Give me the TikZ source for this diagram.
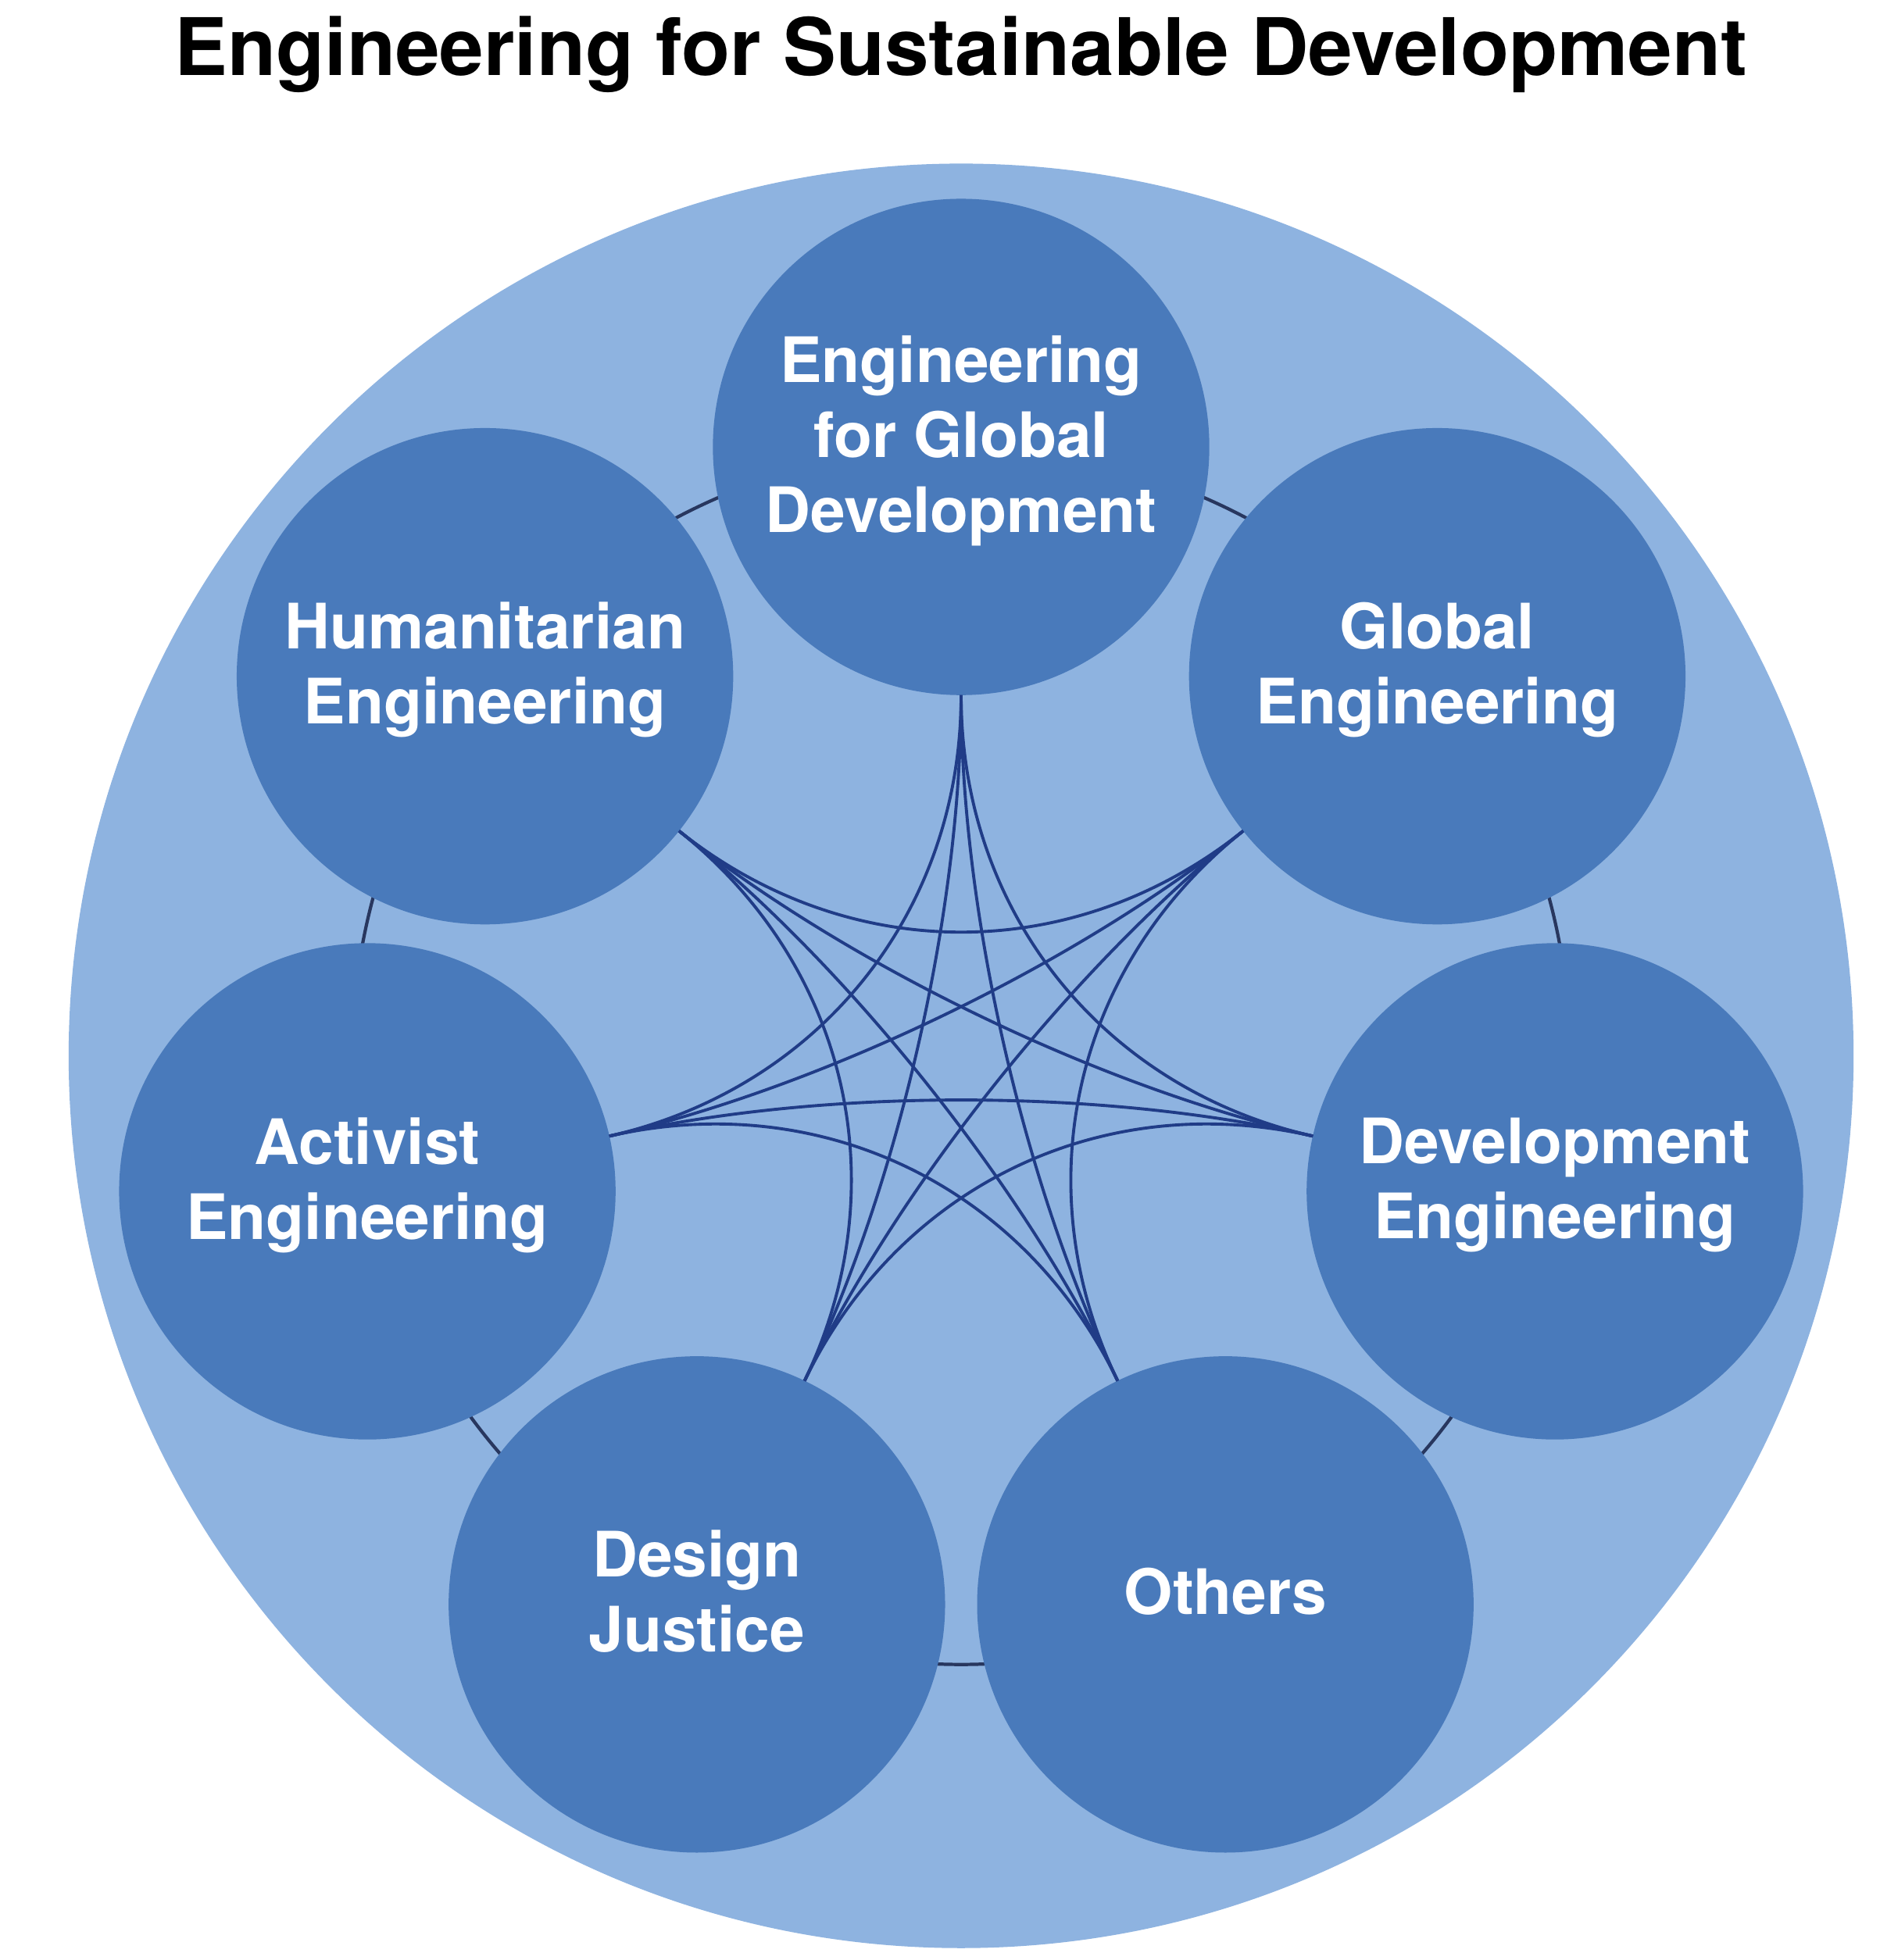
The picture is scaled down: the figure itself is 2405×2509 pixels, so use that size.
\documentclass[tikz,border=0pt]{standalone}
\usepackage{fontspec}
\setmainfont{TeX Gyre Heros}
\usetikzlibrary{calc,backgrounds}
\definecolor{bigfill}{RGB}{142,179,224}
\definecolor{smallfill}{RGB}{73,122,187}
\definecolor{starline}{RGB}{32,60,135}
\definecolor{linkline}{RGB}{40,55,95}
\begin{document}
\begin{tikzpicture}[x=0.01cm,y=0.01cm,
  topic/.style={circle, fill=smallfill, minimum size=6.35cm, inner sep=0pt, outer sep=0pt,
    text=white, align=center, text depth=9.6pt, font=\fontsize{22.8}{27.3}\selectfont\bfseries},
  starcurve/.style={draw=starline, line width=1.1pt},
  ring/.style={draw=linkline, line width=1.2pt},
  titletext/.style={font=\fontsize{28.9}{34}\selectfont\bfseries, anchor=base, inner sep=0pt}]
\useasboundingbox (0,0) rectangle (2405,2509);
\coordinate (C) at (1230,1157.4);
\node[titletext] (title) at (1230,2412) {Engineering for Sustainable Development};
\node[topic] (n0) at ($(C)+(90:7.79cm)$) {Engineering\\for Global\\Development};
\node[topic] (n1) at ($(C)+(141.4286:7.79cm)$) {Humanitarian\\Engineering};
\node[topic] (n2) at ($(C)+(192.8571:7.79cm)$) {Activist\\Engineering};
\node[topic] (n3) at ($(C)+(244.2857:7.79cm)$) {Design\\Justice};
\node[topic] (n4) at ($(C)+(295.7143:7.79cm)$) {Others};
\node[topic] (n5) at ($(C)+(347.1429:7.79cm)$) {Development\\Engineering};
\node[topic] (n6) at ($(C)+(38.5714:7.79cm)$) {Global\\Engineering};
\begin{scope}[on background layer]
  \node[circle, fill=bigfill, minimum size=22.83cm, inner sep=0pt] (outer) at (C) {};
  \foreach \i in {0,...,6} {
    \pgfmathtruncatemacro\j{mod(\i+1,7)}
    \draw[ring] (n\i.center) to[bend right=25.714, looseness=0.8957] (n\j.center);
  }
\end{scope}
\foreach \i in {0,...,6} {
  \foreach \d in {2,3} {
    \pgfmathtruncatemacro\j{mod(\i+\d,7)}
    \pgfmathsetmacro\ai{270+\i*360/7}
    \pgfmathsetmacro\aj{270+\j*360/7}
    \draw[starcurve] ([shift={(\ai:3.175cm)}]n\i.center)
      .. controls ($([shift={(\ai:3.175cm)}]n\i.center)!0.6!(C)$)
      and ($([shift={(\aj:3.175cm)}]n\j.center)!0.6!(C)$)
      .. ([shift={(\aj:3.175cm)}]n\j.center);
  }
}
\end{tikzpicture}
\end{document}
